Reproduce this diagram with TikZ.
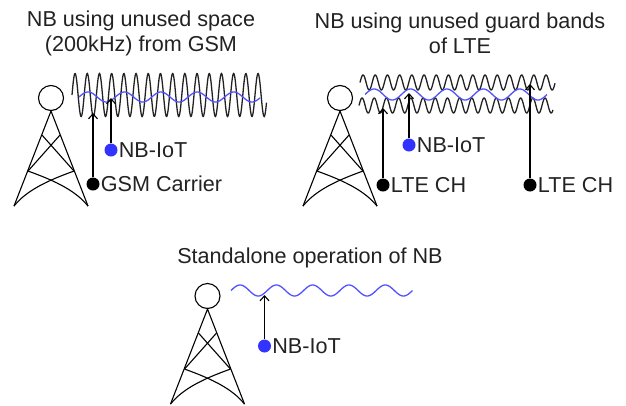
\documentclass[tikz,border=0pt]{standalone}
\usepackage{fontspec}
\setmainfont{Liberation Sans}
\usetikzlibrary{arrows.meta,positioning}
\definecolor{nbblue}{HTML}{3333FF}
\definecolor{wavegrey}{HTML}{222222}
\definecolor{textgrey}{HTML}{222222}
\tikzset{
  mast/.style={draw,circle,line width=1.1pt,minimum size=25pt,inner sep=0pt},
  title/.style={align=center,text=textgrey,font=\fontsize{21.6}{25}\selectfont},
  tag/.style={text=textgrey,inner sep=0pt,font=\fontsize{21.6}{25}\selectfont},
  carrierdot/.style={circle,fill=black,minimum size=13pt,inner sep=0pt},
  nbdot/.style={circle,fill=nbblue,minimum size=13pt,inner sep=0pt},
  arrow/.style={-{Straight Barb[length=5pt,width=9pt]},line width=1.1pt},
  carrier/.style={line width=1.3pt,wavegrey},
  nbwave/.style={line width=1.3pt,nbblue!85!white},
  antenna/.pic={
    \draw[line width=1.1pt] (-37,95) -- (0,0) -- (37,95);
    \draw[line width=1.1pt] (-9,24) -- (23,60);
    \draw[line width=1.1pt] (9,24) -- (-23,60);
    \draw[line width=1.1pt] (-23,60) .. controls (5,70) and (25,80) .. (37,95);
    \draw[line width=1.1pt] (23,60) .. controls (-5,70) and (-25,80) .. (-37,95);
  }
}
\newcommand{\wavepath}[6]{\draw[#1] plot[domain=#2:#3,samples=420,smooth] (\x,{#4-#5*sin((\x-#2)/#6*360)});}

\begin{document}
\begin{tikzpicture}[x=1pt,y=-1pt,node distance=1pt]
  \useasboundingbox (0,0) rectangle (626,405);

  \node[title] (gsmtitle) at (141,33) {NB using unused space\\(200kHz) from GSM};
  \node[mast] (gsmmast) at (51,98) {};
  \pic at (gsmmast.south) {antenna};
  \wavepath{carrier}{72}{266.5}{95}{21.5}{12.2}
  \wavepath{nbwave}{79}{260}{97}{5}{36.4}
  \coordinate (gsmtip) at (93,113);
  \coordinate (gsmnbtip) at (111,98);
  \node[carrierdot] (gsmdot) at (93,184) {};
  \node[nbdot] (gsmnbdot) at (111,150) {};
  \node[tag,right=of gsmdot] (gsmlabel) {GSM Carrier};
  \node[tag,right=of gsmnbdot] (gsmnblabel) {NB-IoT};
  \draw[arrow] (gsmdot) -- (gsmtip);
  \draw[arrow] (gsmnbdot) -- (gsmnbtip);

  \node[title] (ltetitle) at (460,33) {NB using unused guard bands\\of LTE};
  \node[mast] (ltemast) at (340,98) {};
  \pic at (ltemast.south) {antenna};
  \wavepath{carrier}{360}{555}{82.5}{7.5}{12.2}
  \wavepath{carrier}{359}{553}{105.5}{7.5}{12.2}
  \wavepath{nbwave}{365}{547}{94.5}{5.5}{36.4}
  \coordinate (ltetip) at (383,108);
  \coordinate (ltenbtip) at (409,93);
  \coordinate (ltefartip) at (530,84);
  \node[carrierdot] (ltedot) at (383,185) {};
  \node[nbdot] (ltenbdot) at (409,145) {};
  \node[carrierdot] (ltefardot) at (530,185) {};
  \node[tag,right=of ltedot] (ltelabel) {LTE CH};
  \node[tag,right=of ltenbdot] (ltenblabel) {NB-IoT};
  \node[tag,right=of ltefardot] (ltefarlabel) {LTE CH};
  \draw[arrow] (ltedot) -- (ltetip);
  \draw[arrow] (ltenbdot) -- (ltenbtip);
  \draw[arrow] (ltefardot) -- (ltefartip);

  \node[title] (alonetitle) at (310,258) {Standalone operation of NB};
  \node[mast] (alonemast) at (207.5,296) {};
  \pic at (alonemast.south) {antenna};
  \wavepath{nbwave}{231}{412.5}{290.5}{5.5}{36.3}
  \coordinate (alonetip) at (264.5,295);
  \node[nbdot] (alonedot) at (264.5,346) {};
  \node[tag,right=of alonedot] (alonelabel) {NB-IoT};
  \draw[arrow] (alonedot) -- (alonetip);
\end{tikzpicture}
\end{document}
